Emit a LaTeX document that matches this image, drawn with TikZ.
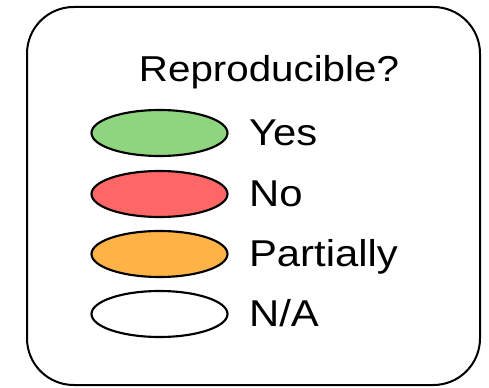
\documentclass[tikz,border=0pt]{standalone}
\usepackage{fontspec}
\setmainfont{Liberation Sans}[FakeStretch=1.12]
\usetikzlibrary{shapes.geometric}

\definecolor{yesgreen}{RGB}{143,213,127}
\definecolor{nored}{RGB}{255,102,102}
\definecolor{partorange}{RGB}{255,179,71}

\tikzset{every picture/.style={line width=0.75pt}}
\tikzset{
  oval/.style={draw, ellipse, line width=1.6pt, minimum width=102pt, minimum height=34.5pt, inner sep=0pt},
  lbl/.style={anchor=base west, inner sep=0pt, font=\fontsize{28}{32}\selectfont}
}

\begin{document}
\begin{tikzpicture}[x=0.75pt,y=0.75pt,yscale=-1,xscale=1]
\useasboundingbox (0,0) rectangle (489,388);

\draw  [line width=1.5pt, rounded corners=35pt]  (27,7) -- (480,7) -- (480,385) -- (27,385) -- cycle ;

\node [anchor=base, inner sep=0pt, font=\fontsize{27}{31}\selectfont] (title) at (269,82) {Reproducible?};

\node [oval, fill=yesgreen] (yes) at (159.5,133) {};
\node [oval, fill=nored] (no) at (159.5,194) {};
\node [oval, fill=partorange] (part) at (159.5,254) {};
\node [oval, fill=white] (na) at (159.5,314) {};

\node [lbl] (yesL) at ([xshift=15pt, yshift=9.5pt]yes.east) {Yes};
\node [lbl] (noL) at ([xshift=15pt, yshift=9.5pt]no.east) {No};
\node [lbl] (partL) at ([xshift=15pt, yshift=9.5pt]part.east) {Partially};
\node [lbl] (naL) at ([xshift=15pt, yshift=9.5pt]na.east) {N/A};

\end{tikzpicture}
\end{document}
